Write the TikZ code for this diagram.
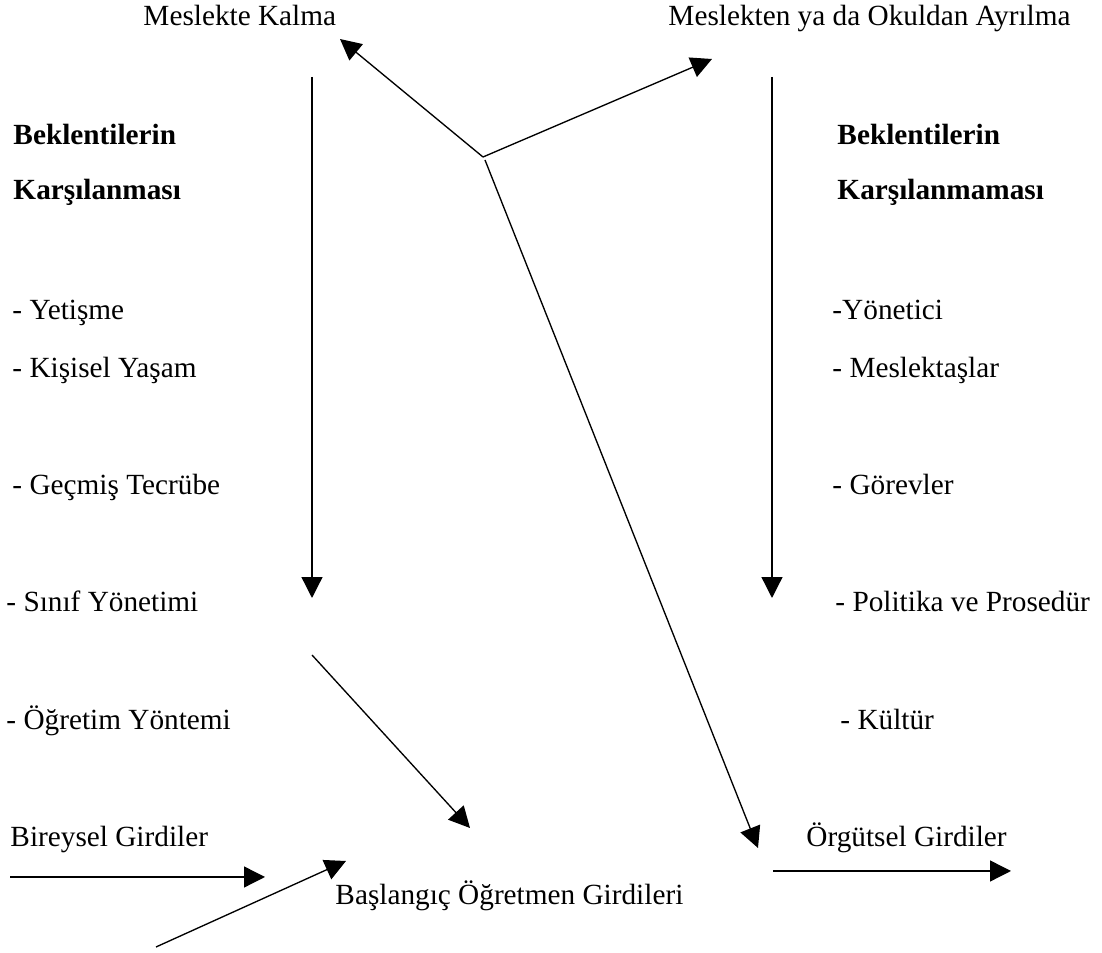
\documentclass[tikz,border=0pt]{standalone}
\usepackage{fontspec}
\setmainfont{Liberation Serif}
\usetikzlibrary{arrows.meta}

\begin{document}
\begin{tikzpicture}[x=0.41pt,y=-0.41pt,
    lbl/.style={anchor=base west,inner sep=0pt,font=\fontsize{12}{14}\selectfont},
    hdr/.style={lbl,font=\fontsize{12}{14}\selectfont\bfseries},
    arr/.style={line width=0.55pt,-{Triangle[length=8.6pt,width=8.6pt]}}
]
    \useasboundingbox (0,0) rectangle (1102,953);
    % ust sonuclar
    \node[lbl] (kalma) at (143,26) {Meslekte Kalma};
    \node[lbl] (ayrilma) at (668,26) {Meslekten ya da Okuldan Ayrılma};
    % sol sutun
    \node[hdr] (bekL) at (13,145) {Beklentilerin};
    \node[hdr] (karL) at (13,200) {Karşılanması};
    \node[lbl] (yet) at (12,320) {- Yetişme};
    \node[lbl] (kis) at (12,378) {- Kişisel Yaşam};
    \node[lbl] (gec) at (12,495) {- Geçmiş Tecrübe};
    \node[lbl] (sin) at (6,612) {- Sınıf Yönetimi};
    \node[lbl] (ogr) at (6,730) {- Öğretim Yöntemi};
    \node[lbl] (bir) at (10,847) {Bireysel Girdiler};
    % sag sutun
    \node[hdr] (bekR) at (837,145) {Beklentilerin};
    \node[hdr] (karR) at (837,200) {Karşılanmaması};
    \node[lbl] (yon) at (832,320) {-Yönetici};
    \node[lbl] (mes) at (832,378) {- Meslektaşlar};
    \node[lbl] (gor) at (832,495) {- Görevler};
    \node[lbl] (pol) at (835,612) {- Politika ve Prosedür};
    \node[lbl] (kul) at (840,730) {- Kültür};
    \node[lbl] (org) at (806,847) {Örgütsel Girdiler};
    % orta
    \node[lbl] (bas) at (335,905) {Başlangıç Öğretmen Girdileri};

    \coordinate (j) at (483,157);
    \coordinate (j2) at (485,160);
    \coordinate (kalmaT) at (340,39);
    \coordinate (ayrT) at (712,59);
    \coordinate (orgT) at (758,848);
    \coordinate (solA) at (312,77);
    \coordinate (solB) at (312,598);
    \coordinate (sagA) at (772,77);
    \coordinate (sagB) at (772,598);
    \coordinate (diaA) at (312,655);
    \coordinate (diaB) at (470,828);
    \coordinate (birA) at (10,877);
    \coordinate (birB) at (265,877);
    \coordinate (altA) at (156,947);
    \coordinate (altB) at (346,861);
    \coordinate (orgA) at (773,871);
    \coordinate (orgB) at (1011,871);

    \draw[arr] (j) -- (kalmaT);
    \draw[arr] (j) -- (ayrT);
    \draw[arr] (j2) -- (orgT);
    \draw[arr] (solA) -- (solB);
    \draw[arr] (sagA) -- (sagB);
    \draw[arr] (diaA) -- (diaB);
    \draw[arr] (birA) -- (birB);
    \draw[arr] (altA) -- (altB);
    \draw[arr] (orgA) -- (orgB);
\end{tikzpicture}
\end{document}
